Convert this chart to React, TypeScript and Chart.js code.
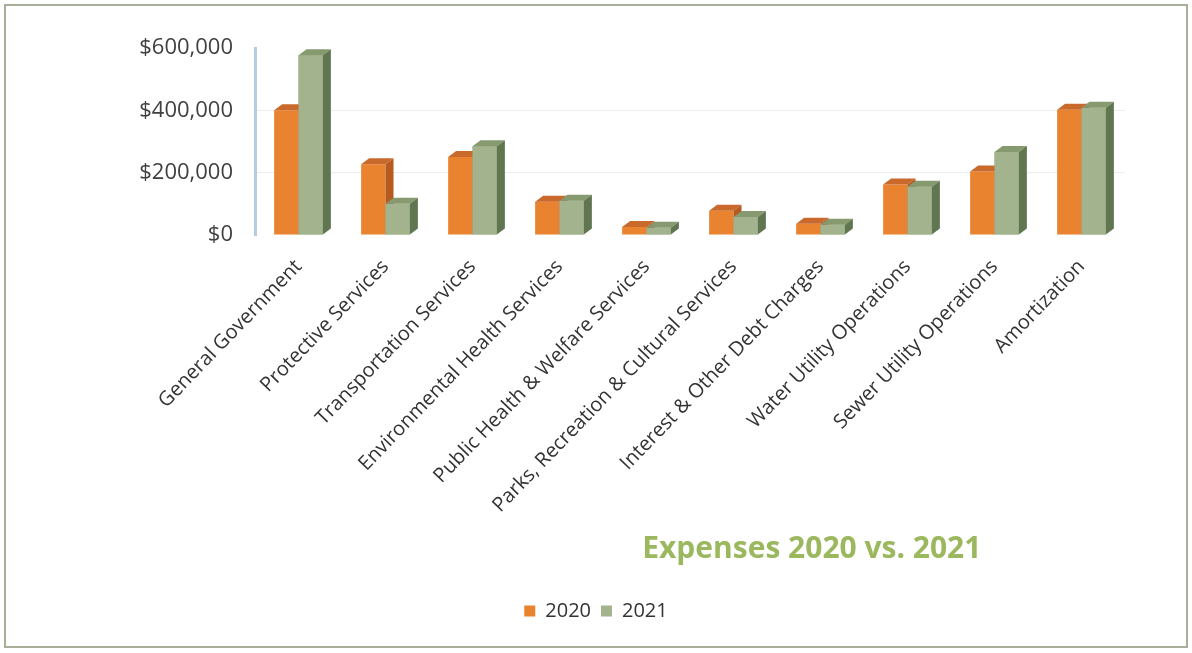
import React, { useEffect, useRef } from "react";
import { Chart, registerables } from "chart.js";

Chart.register(...registerables);

const categories = [
  "General Government",
  "Protective Services",
  "Transportation Services",
  "Environmental Health Services",
  "Public Health & Welfare Services",
  "Parks, Recreation & Cultural Services",
  "Interest & Other Debt Charges",
  "Water Utility Operations",
  "Sewer Utility Operations",
  "Amortization",
];

const values2020 = [400000, 227000, 250000, 107000, 26000, 78000, 36000, 162000, 204000, 402000];
const values2021 = [577000, 100000, 285000, 110000, 23000, 58000, 33000, 155000, 266000, 408000];

const seriesLabels = ["2020", "2021"];
const yTickValues = [0, 200000, 400000, 600000];
const titleText = "Expenses 2020 vs. 2021";

const FONT = "'Open Sans', 'DejaVu Sans', sans-serif";

const bar3d = {
  id: "bar3d",
  afterDatasetsDraw(chart: any) {
    const ctx = chart.ctx;
    const dx = 8;
    const dy = 6;
    ctx.save();
    chart.data.datasets.forEach((ds: any, i: number) => {
      const meta = chart.getDatasetMeta(i);
      if (meta.hidden) return;
      for (const el of meta.data) {
        const p = el.getProps(["x", "y", "base", "width"], true);
        const left = p.x - p.width / 2;
        const right = p.x + p.width / 2;
        if (i > 0) {
          ctx.fillStyle = ds.backgroundColor;
          ctx.fillRect(left, p.y, p.width, p.base - p.y);
        }
        ctx.fillStyle = ds.topColor;
        ctx.beginPath();
        ctx.moveTo(left, p.y);
        ctx.lineTo(left + dx, p.y - dy);
        ctx.lineTo(right + dx, p.y - dy);
        ctx.lineTo(right, p.y);
        ctx.closePath();
        ctx.fill();
        ctx.fillStyle = ds.sideColor;
        ctx.beginPath();
        ctx.moveTo(right, p.y);
        ctx.lineTo(right + dx, p.y - dy);
        ctx.lineTo(right + dx, p.base - dy);
        ctx.lineTo(right, p.base);
        ctx.closePath();
        ctx.fill();
      }
    });
    ctx.restore();
  },
};

const shiftTitle = {
  id: "shiftTitle",
  afterLayout(chart: any) {
    const tb = chart.titleBlock;
    const ca = chart.chartArea;
    if (!tb || !ca) return;
    const w = tb.right - tb.left;
    const center = ca.left + (ca.right - ca.left) * 0.64;
    tb.left = center - w / 2;
    tb.right = center + w / 2;
  },
};

export default function App() {
  const canvasRef = useRef<HTMLCanvasElement | null>(null);

  useEffect(() => {
    document.body.style.margin = "0";
    const canvas = canvasRef.current;
    if (!canvas) return;
    const chart = new Chart(canvas, {
      type: "bar",
      data: {
        labels: categories,
        datasets: [
          {
            label: seriesLabels[0],
            data: values2020,
            backgroundColor: "#e9832f",
            topColor: "#c9692b",
            sideColor: "#b65a1f",
          } as any,
          {
            label: seriesLabels[1],
            data: values2021,
            backgroundColor: "#a2b38d",
            topColor: "#86996f",
            sideColor: "#5f7651",
          } as any,
        ],
      },
      options: {
        animation: false,
        responsive: false,
        maintainAspectRatio: false,
        datasets: {
          bar: {
            categoryPercentage: 0.56,
            barPercentage: 1.0,
          },
        },
        layout: {
          padding: { top: 48, right: 67, bottom: 22, left: 67 },
        },
        scales: {
          x: {
            grid: { display: false },
            border: { display: false },
            afterFit: (scale: any) => {
              scale.height = 286;
            },
            ticks: {
              minRotation: 46,
              maxRotation: 46,
              autoSkip: false,
              color: "#333333",
              font: { family: FONT, size: 20 },
              padding: 12,
            },
          },
          y: {
            min: 0,
            max: 600000,
            afterBuildTicks: (scale: any) => {
              scale.ticks = yTickValues.map((v) => ({ value: v }));
            },
            afterFit: (scale: any) => {
              scale.width = 188;
            },
            grid: {
              color: (c: any) =>
                c.tick && (c.tick.value === 200000 || c.tick.value === 400000)
                  ? "rgba(0,0,0,0.07)"
                  : "rgba(0,0,0,0)",
              drawTicks: false,
            },
            border: { display: true, color: "#b4cde3", width: 3 },
            ticks: {
              color: "#404040",
              padding: 22,
              font: { family: FONT, size: 22 },
              callback: (v: any) => "$" + Number(v).toLocaleString("en-US"),
            },
          },
        },
        plugins: {
          legend: {
            position: "bottom",
            weight: 1000,
            labels: {
              boxWidth: 11,
              boxHeight: 11,
              color: "#333333",
              font: { family: FONT, size: 20 },
              padding: 10,
            },
          },
          title: {
            display: true,
            text: titleText,
            position: "bottom",
            weight: 500,
            color: "#9bb85e",
            font: { family: FONT, size: 30, weight: "bold" },
            padding: { top: 10, bottom: 24 },
          } as any,
          tooltip: { enabled: false },
        },
      },
      plugins: [bar3d, shiftTitle],
    });
    return () => chart.destroy();
  }, []);

  return (
    <div style={{ position: "relative", width: 1192, height: 653, background: "#ffffff" }}>
      <div
        style={{
          position: "absolute",
          left: 4,
          top: 4,
          width: 1180,
          height: 640,
          border: "2px solid #a7ae9a",
        }}
      />
      <canvas
        ref={canvasRef}
        width={1192}
        height={653}
        style={{ position: "absolute", left: 0, top: 0, width: 1192, height: 653 }}
      />
    </div>
  );
}
